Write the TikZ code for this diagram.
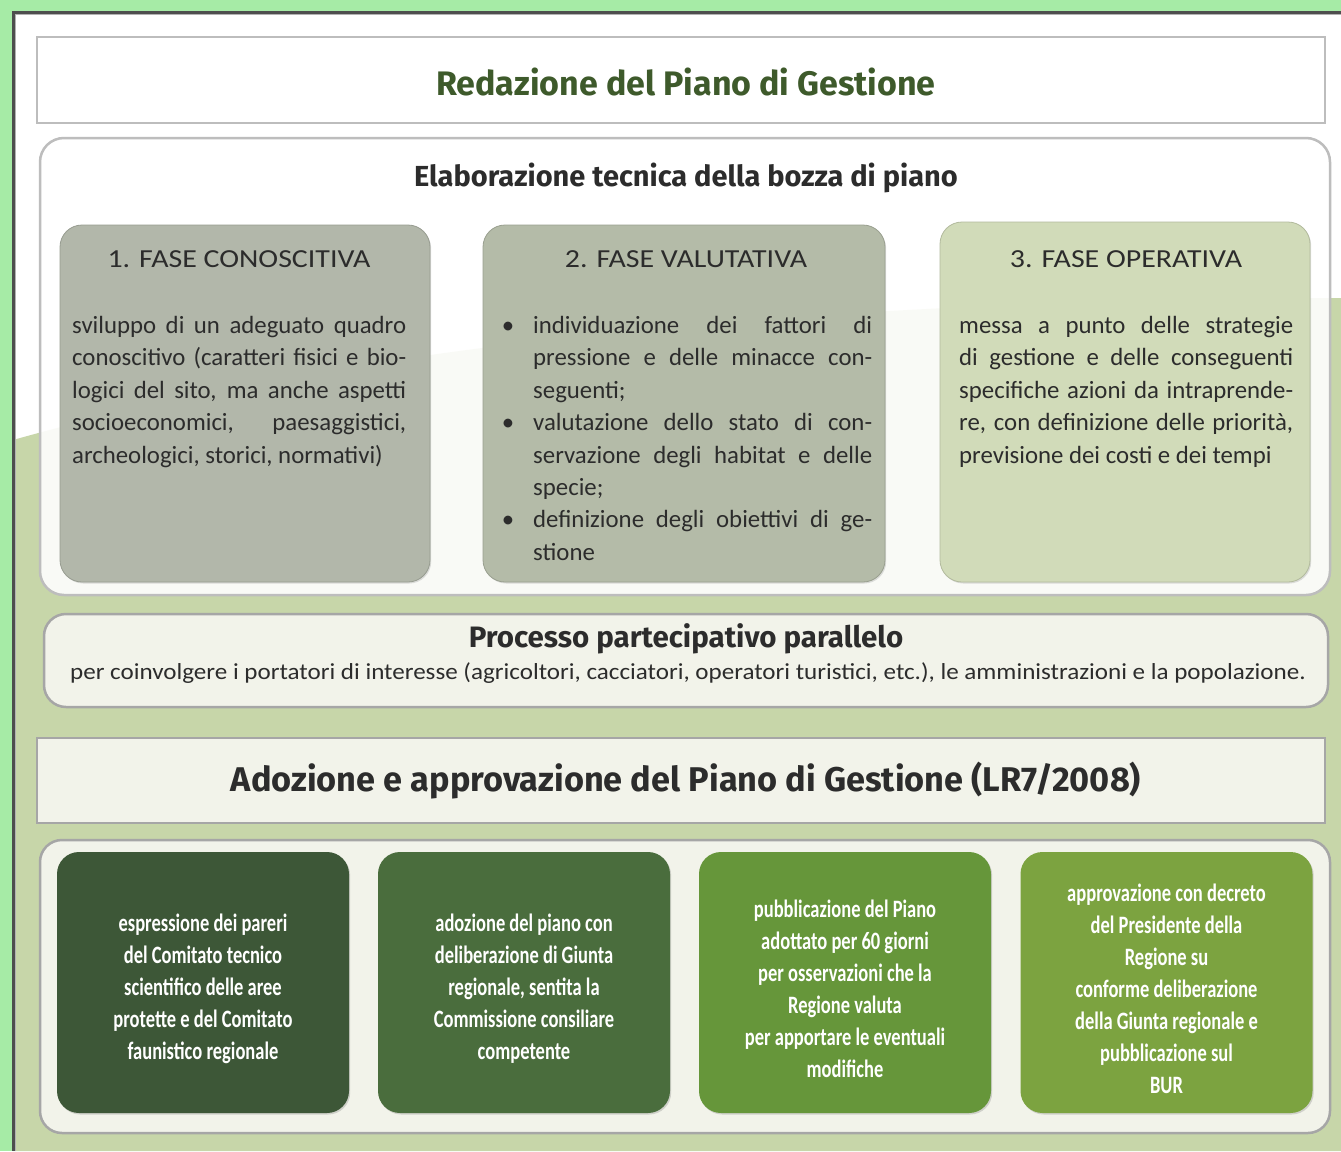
\documentclass[tikz,border=0pt]{standalone}
\usepackage{fontspec}
\setmainfont{Carlito}
\newfontfamily\fira{Fira Sans}
\newfontfamily\carhead[FakeStretch=1.15]{Carlito}
\newfontfamily\carcond[FakeStretch=0.74]{Carlito}
\newfontfamily\carwide[FakeStretch=1.09]{Carlito}
\usetikzlibrary{shadows}
\definecolor{outergreen}{HTML}{A6EBA6}
\definecolor{bggreen}{HTML}{C7D6A9}
\definecolor{offwhite}{HTML}{F2F3EA}
\definecolor{darkborder}{HTML}{4E4E4E}
\definecolor{boxborder}{HTML}{BDBDBD}
\definecolor{ph1}{HTML}{B2B7AA}
\definecolor{ph2}{HTML}{B4BBA8}
\definecolor{ph3}{HTML}{D1DBB9}
\definecolor{gA}{HTML}{3D5737}
\definecolor{gB}{HTML}{4A6D3D}
\definecolor{gC}{HTML}{66963A}
\definecolor{gD}{HTML}{7CA340}
\definecolor{titlegreen}{HTML}{3E5A2B}
\definecolor{txt}{HTML}{2C2C2C}
\newcommand\jl[1]{\makebox[334pt][s]{#1}}
\newcommand\jb[1]{\makebox[339pt][s]{#1}}
\newcommand\bul{\llap{\textbullet\hspace{19pt}}}
\begin{document}
\begin{tikzpicture}[x=1pt,y=-1pt,
  framebox/.style={draw=boxborder, line width=2.5pt, fill=white, inner sep=0pt},
  panel/.style={draw=boxborder, line width=2.5pt, rounded corners=24pt, inner sep=0pt},
  softbox/.style={draw=#1!85!black, line width=0.8pt, fill=#1, rounded corners=22pt, inner sep=0pt,
     drop shadow={shadow xshift=1.2pt, shadow yshift=-1.5pt, opacity=0.25}},
  greenbox/.style={fill=#1, rounded corners=22pt, inner sep=0pt, minimum width=292pt, minimum height=261pt,
     drop shadow={shadow xshift=1.2pt, shadow yshift=-1.5pt, opacity=0.3}},
  phasehead/.style={font=\carhead\fontsize{26}{30}\selectfont, text=txt, inner sep=0pt},
  phasebody/.style={font=\fontsize{24.8}{32.4}\selectfont, text=txt, inner sep=0pt, align=left, anchor=north west},
  greentext/.style={font=\carcond\bfseries\fontsize{25}{32}\selectfont, text=white, align=center, inner sep=0pt},
  bigtitle/.style={font=\fira\bfseries\fontsize{#1}{#1}\selectfont, text=txt, inner sep=0pt}
]
\useasboundingbox (0,0) rectangle (1341,1151);
% background
\fill[outergreen] (0,0) rectangle (1341,1151);
\fill[white] (13,12) rectangle (1341,1151);
\fill[bggreen] (13,440) .. controls (350,345) and (800,300) .. (1341,298) -- (1341,1151) -- (13,1151) -- cycle;
\draw[line width=3pt, darkborder] (13.5,1151) -- (13.5,12.5) -- (1341,12.5);
\draw[line width=1pt, gray!60] (15.5,1151) -- (15.5,14.5) -- (1341,14.5);

% title
\node[framebox, minimum width=1288pt, minimum height=86pt] (redaz) at (681,80) {};
\node[bigtitle=34, text=titlegreen] (redazt) at (686,82) {Redazione del Piano di Gestione};

% elaborazione panel
\node[panel, fill=white, fill opacity=0.9, minimum width=1290pt, minimum height=457pt] (elab) at (685,366.5) {};
\node[bigtitle=29] (elabt) at (686,178) {Elaborazione tecnica della bozza di piano};

\node[softbox=ph1, minimum width=370pt, minimum height=357pt] (ph1) at (245,403.5) {};
\node[softbox=ph2, minimum width=402pt, minimum height=357pt] (ph2) at (684,403.5) {};
\node[softbox=ph3, minimum width=370pt, minimum height=360pt] (ph3) at (1125,402) {};

\node[phasehead] (h1) at (239,259) {1. FASE CONOSCITIVA};
\node[phasehead] (h2) at (686,259) {2. FASE VALUTATIVA};
\node[phasehead] (h3) at (1126,259) {3. FASE OPERATIVA};

\node[phasebody] (b1) at (72,316) {%
\jl{sviluppo di un adeguato quadro}\\
\jl{conoscitivo (caratteri fisici e bio-}\\
\jl{logici del sito, ma anche aspetti}\\
\jl{socioeconomici, paesaggistici,}\\
archeologici, storici, normativi)};

\node[phasebody] (b2) at (533,316) {%
\bul\jb{individuazione dei fattori di}\\
\jb{pressione e delle minacce con-}\\
seguenti;\\
\bul\jb{valutazione dello stato di con-}\\
\jb{servazione degli habitat e delle}\\
specie;\\
\bul\jb{definizione degli obiettivi di ge-}\\
stione};

\node[phasebody] (b3) at (959,316) {%
\jl{messa a punto delle strategie}\\
\jl{di gestione e delle conseguenti}\\
\jl{specifiche azioni da intraprende-}\\
\jl{re, con definizione delle priorità,}\\
previsione dei costi e dei tempi};

% processo partecipativo
\node[panel, fill=offwhite, draw=gray!70, rounded corners=22pt, minimum width=1284pt, minimum height=93pt] (proc) at (686,660.5) {};
\node[bigtitle=29.5] (proct) at (686,639) {Processo partecipativo parallelo};
\node[font=\carwide\fontsize{23}{26}\selectfont, text=txt, inner sep=0pt] (procs) at (688,673) {per coinvolgere i portatori di interesse (agricoltori, cacciatori, operatori turistici, etc.), le amministrazioni e la popolazione.};

% adozione
\node[framebox, fill=offwhite, draw=gray!70, minimum width=1288pt, minimum height=85pt] (adoz) at (681,780.5) {};
\node[bigtitle=34.3] (adozt) at (686,781) {Adozione e approvazione del Piano di Gestione (LR7/2008)};

% bottom container
\node[panel, fill=offwhite, draw=gray!70, rounded corners=22pt, minimum width=1290pt, minimum height=293pt] (bottom) at (685,986.5) {};

\node[greenbox=gA] (s1) at (203,982.5) {};
\node[greenbox=gB] (s2) at (524,982.5) {};
\node[greenbox=gC] (s3) at (845,982.5) {};
\node[greenbox=gD] (s4) at (1166.5,982.5) {};

\node[greentext] (t1) at (203,989) {espressione dei pareri\\del Comitato tecnico\\scientifico delle aree\\protette e del Comitato\\faunistico regionale};
\node[greentext] (t2) at (524,989) {adozione del piano con\\deliberazione di Giunta\\regionale, sentita la\\Commissione consiliare\\competente};
\node[greentext] (t3) at (845,989) {pubblicazione del Piano\\adottato per 60 giorni\\per osservazioni che la\\Regione valuta\\per apportare le eventuali\\modifiche};
\node[greentext] (t4) at (1166.5,989) {approvazione con decreto\\del Presidente della\\Regione su\\conforme deliberazione\\della Giunta regionale e\\pubblicazione sul\\BUR};
\end{tikzpicture}
\end{document}
